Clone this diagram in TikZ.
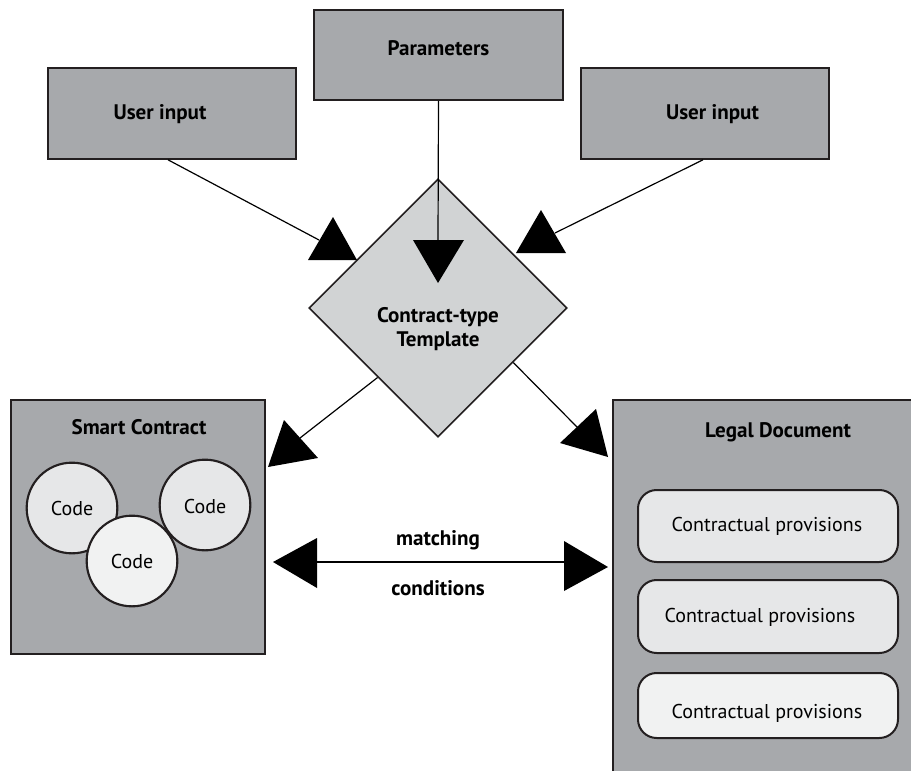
\documentclass[tikz,border=0pt]{standalone}
\usepackage{fontspec}
\setmainfont{PT Sans}
\usetikzlibrary{shapes.geometric,calc}
\definecolor{boxgray}{HTML}{A7A9AC}
\definecolor{diagray}{HTML}{D1D3D4}
\definecolor{lightA}{HTML}{E6E7E8}
\definecolor{lightB}{HTML}{F1F2F2}
\definecolor{ink}{HTML}{231F20}
\begin{document}
\begin{tikzpicture}[x=0.75pt,y=-0.75pt,
  graybox/.style={draw=ink,line width=1.2pt,fill=boxgray,rectangle,inner sep=0pt},
  btxt/.style={font=\fontsize{15.8}{18}\selectfont\bfseries,text=black,inner sep=0pt,align=center},
  rtxt/.style={font=\fontsize{15}{18}\selectfont,text=black,inner sep=0pt},
  codecirc/.style={circle,draw=ink,line width=1.6pt,minimum size=68pt,inner sep=0pt},
  provbox/.style={rectangle,rounded corners=14pt,draw=ink,line width=1.5pt,minimum width=195pt,inner sep=0pt},
  conn/.style={draw=black,line width=0.9pt},
  tip/.style={fill=black,draw=none}
]
\useasboundingbox (0,0) rectangle (911,771);

% top boxes
\node[graybox,minimum width=186.75pt,minimum height=67.5pt] (param) at (438.5,55) {};
\node[btxt] (paramt) at (438.5,48) {Parameters};
\node[graybox,minimum width=186pt,minimum height=68.25pt] (uil) at (172,113.5) {};
\node[btxt] (uilt) at (160,114) {User input};
\node[graybox,minimum width=186pt,minimum height=68.25pt] (uir) at (705,113.5) {};
\node[btxt] (uirt) at (712.5,114) {User input};

% diamond
\node[diamond,draw=ink,line width=1.2pt,fill=diagray,minimum width=193.5pt,minimum height=193.5pt,inner sep=0pt,aspect=1] (tmpl) at (438,308) {};
\node[btxt,font=\fontsize{15.8}{18.5}\selectfont\bfseries] (tmplt) at (438,329) {Contract-type\\Template};

% smart contract box
\node[graybox,minimum width=190.5pt,minimum height=190.5pt] (sc) at (138,527) {};
\node[btxt] (sct) at (139,427) {Smart Contract};
\node[codecirc,fill=lightA] (c1) at (72,508) {};
\node[rtxt] at (c1) {Code};
\node[codecirc,fill=lightA] (c3) at (205,505) {};
\node[rtxt] at ([yshift=-1pt]c3.center) {Code};
\node[codecirc,fill=lightB] (c2) at (132,561) {};
\node[rtxt] at (c2) {Code};

% legal document box
\node[graybox,minimum width=245.25pt,minimum height=300pt] (ld) at (776.5,600) {};
\node[btxt] (ldt) at (778,432) {Legal Document};
\node[provbox,fill=lightA,minimum height=54pt] (p1) at (768,526) {};
\node[rtxt] at (767,526) {Contractual provisions};
\node[provbox,fill=lightA,minimum height=54.75pt] (p2) at (768,616.5) {};
\node[rtxt] at (760,617) {Contractual provisions};
\node[provbox,fill=lightB,minimum height=48.75pt] (p3) at (768,705.5) {};
\node[rtxt] at (767,713) {Contractual provisions};

% connectors
\coordinate (e1) at (319,240);
\draw[conn] ([xshift=-3pt]uil.south) -- (e1);
\fill[tip] (308,260) -- (357,260) -- (333,217) -- cycle;

\coordinate (e2) at (438,242);
\draw[conn] (param.south) -- (e2);
\fill[tip] (413,240) -- (464,240) -- (438,283) -- cycle;

\coordinate (e3) at (555,233);
\draw[conn] ([xshift=-1.5pt]uir.south) -- (e3);
\fill[tip] (516,253) -- (566,253) -- (541,210) -- cycle;

\coordinate (e4) at (300,438);
\draw[conn] ($(tmpl.west)!0.535!(tmpl.south)$) -- (e4);
\fill[tip] (284,420) -- (318,458) -- (268,467) -- cycle;

\coordinate (e5) at (577,427);
\draw[conn] ($(tmpl.east)!0.42!(tmpl.south)$) -- (e5);
\fill[tip] (596,409) -- (608,457) -- (560,443) -- cycle;

% matching conditions
\coordinate (m1) at (317,562);
\coordinate (m2) at (566,562);
\draw[conn] (m1) -- (m2);
\fill[tip] (273,562) -- (317,538) -- (317,588) -- cycle;
\fill[tip] (564,541) -- (564,591) -- (608,567) -- cycle;
\node[btxt] (mt) at (438,540) {matching};
\node[btxt] (ct) at (438,588) {conditions};
\end{tikzpicture}
\end{document}
